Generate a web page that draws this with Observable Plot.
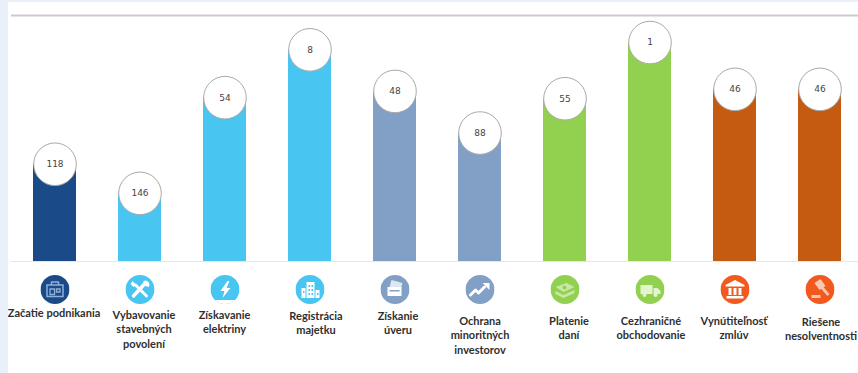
<!DOCTYPE html>
<html lang="sk">
<head>
<meta charset="utf-8">
<title>Doing Business – poradie Slovenska</title>
<script src="https://cdn.jsdelivr.net/npm/d3@7"></script>
<script src="https://cdn.jsdelivr.net/npm/@observablehq/plot@0.6"></script>
<style>
  html, body { margin: 0; background: #e9f0fa; }
  body { padding: 2px 0 0 8px; width: 850px; height: 371px; overflow: hidden; }
  svg { display: block; }
</style>
</head>
<body>
<script>
// Indicator names, drawn under each column
const categories = [
  "Začatie podnikania",
  "Vybavovanie\nstavebných\npovolení",
  "Získavanie\nelektriny",
  "Registrácia\nmajetku",
  "Získanie\núveru",
  "Ochrana\nminoritných\ninvestorov",
  "Platenie\ndaní",
  "Cezhraničné\nobchodovanie",
  "Vynútiteľnosť\nzmlúv",
  "Riešene\nnesolventnosti"
];

// Rank in each indicator: 1 is best, so a lower rank makes a taller column
const ranks = [118, 146, 54, 8, 48, 88, 55, 1, 46, 46];

// One colour per indicator group
const barColors = ["#1a4a87", "#49c5f1", "#49c5f1", "#49c5f1", "#829fc6", "#829fc6", "#92d14f", "#92d14f", "#c55a11", "#c55a11"];
const iconColors = ["#1a4a87", "#49c5f1", "#49c5f1", "#49c5f1", "#829fc6", "#829fc6", "#92d14f", "#92d14f", "#f2591f", "#f2591f"];

// Rank positions of the baseline and of the top rule
const baselineRank = 211.5;
const topRank = -25;

// Per-label placement below the baseline: [dx, dy]
const labelNudges = [[-1, 45], [4, 47], [-0.5, 47], [6, 48], [3, 48], [0, 53], [4, 53], [1, 53], [-1, 53], [1, 54]];

// White pictograms on a 29 by 29 grid, one per indicator
const glyphs = [
  `<path d="M6.500 10h16v11.500h-16z" fill="none" stroke="#8fb0d8" stroke-width="1.5"/><path d="M11 10V7h7v3" fill="none" stroke="#8fb0d8" stroke-width="1.5"/><path d="M9.500 14h4.500v5.500H9.500zM16 14h3.500v3H16z" fill="none" stroke="#8fb0d8" stroke-width="1.3"/>`,
  `<path d="M8 21 19 9" stroke="#fff" stroke-width="3.4" stroke-linecap="round"/><path d="M21 21 10 10" stroke="#fff" stroke-width="3" stroke-linecap="round"/><path d="M7 6l4 4-3 2-3-3zM18 6a4 4 0 0 1 5 6l-3-1-2-3z" fill="#fff"/>`,
  `<path d="M0 25h29v4H0z" fill="#fff"/><path d="M17 6 10 16h4l-2 7 8-10h-4l3-7z" fill="#fff"/>`,
  `<path d="M11 7h8v16h-8zM6 13h4v10H6zM20 15h4v8h-4z" fill="#fff"/><path d="M13 10h1.600v2H13zM16 10h1.600v2H16zM13 14h1.600v2H13zM16 14h1.600v2H16zM13 18h1.600v2H13zM16 18h1.600v2H16zM7.500 16h1.500v2H7.500zM21.500 18h1.500v2h-1.500z" fill="#49c5f1"/>`,
  `<path d="M11 5l11 3-2 7-11-3z" fill="#dfe6f1"/><path d="M7 12h14v9H7z" fill="#fff"/><path d="M9 15h10v1.600H9z" fill="#829fc6"/>`,
  `<path d="M5 20l5-5 3 3 6-6" fill="none" stroke="#fff" stroke-width="3" stroke-linecap="round" stroke-linejoin="round"/><path d="M17 8h7v7z" fill="#fff"/>`,
  `<path d="M5 12l11-4 8 4-11 5z" fill="#c9e8a6"/><path d="M5 16l8 4 11-5v3l-11 5-8-4z" fill="#c9e8a6"/><circle cx="14" cy="12.500" r="2" fill="#92d14f"/>`,
  `<path d="M5 10h12v9H5z" fill="#e4f3d2"/><path d="M18 13h4l3 3v3h-7z" fill="#e4f3d2"/><circle cx="9" cy="20" r="2" fill="#e4f3d2"/><circle cx="20" cy="20" r="2" fill="#e4f3d2"/>`,
  `<path d="M14.500 5 24 10v1.500H5V10z" fill="#fff"/><path d="M8 13h3v7H8zM13 13h3v7h-3zM18 13h3v7h-3zM6 21h17v2.500H6z" fill="#fff"/>`,
  `<path d="M9 8l6-4 5 7-6 4z" fill="#f8c9b0"/><path d="M15 13l2-2 7 8-2 2z" fill="#f8c9b0"/><path d="M6 20h9v3H6z" fill="#f8c9b0"/>`
];

// Wrap a colour and a pictogram into a round badge
const iconSrc = (color, glyph) => "data:image/svg+xml," + encodeURIComponent(
  `<svg xmlns="http://www.w3.org/2000/svg" viewBox="0 0 29 29" width="29" height="29">` +
  `<defs><clipPath id="c"><circle cx="14.5" cy="14.5" r="14.5"/></clipPath></defs>` +
  `<circle cx="14.5" cy="14.5" r="14.5" fill="${color}"/><g clip-path="url(#c)">${glyph}</g></svg>`
);

const rows = categories.map((name, i) => ({
  name,
  rank: ranks[i],
  bar: barColors[i],
  icon: iconSrc(iconColors[i], glyphs[i])
}));

const labelMarks = rows.map((d, i) => Plot.text([d], {
  x: "name",
  y: () => baselineRank,
  text: "name",
  dx: labelNudges[i][0],
  dy: labelNudges[i][1],
  lineAnchor: "top",
  textAnchor: "middle",
  lineHeight: 1.32,
  fontFamily: "Lato, sans-serif",
  fontWeight: 700,
  fontSize: 11,
  fill: "#2f2f2f"
}));

const chart = Plot.plot({
  width: 850,
  height: 371,
  marginTop: 0,
  marginBottom: 0,
  marginLeft: 3,
  marginRight: 0,
  style: { background: "#fff", overflow: "hidden" },
  x: {
    type: "band",
    domain: categories,
    range: [23.7, 834.2],
    paddingInner: 0.495,
    paddingOuter: 0,
    axis: null
  },
  y: { domain: [topRank, baselineRank], range: [13, 259], axis: null },
  marks: [
    Plot.ruleY([topRank], { stroke: "#cbcbcb", strokeWidth: 2 }),
    Plot.ruleY([baselineRank], { stroke: "#e6e6e6", strokeWidth: 1 }),
    Plot.barY(rows, { x: "name", y1: () => baselineRank, y2: "rank", fill: "bar" }),
    Plot.dot(rows, { x: "name", y: "rank", r: 21.3, fill: "#fff", stroke: "#a9a9a9", strokeWidth: 1 }),
    Plot.text(rows, {
      x: "name",
      y: "rank",
      text: d => String(d.rank),
      fontFamily: "DejaVu Sans, sans-serif",
      fontSize: 9,
      fill: "#444"
    }),
    Plot.image(rows, { x: "name", y: () => baselineRank, src: "icon", width: 29, height: 29, dy: 28 }),
    ...labelMarks
  ]
});

document.body.appendChild(chart);
</script>
</body>
</html>
